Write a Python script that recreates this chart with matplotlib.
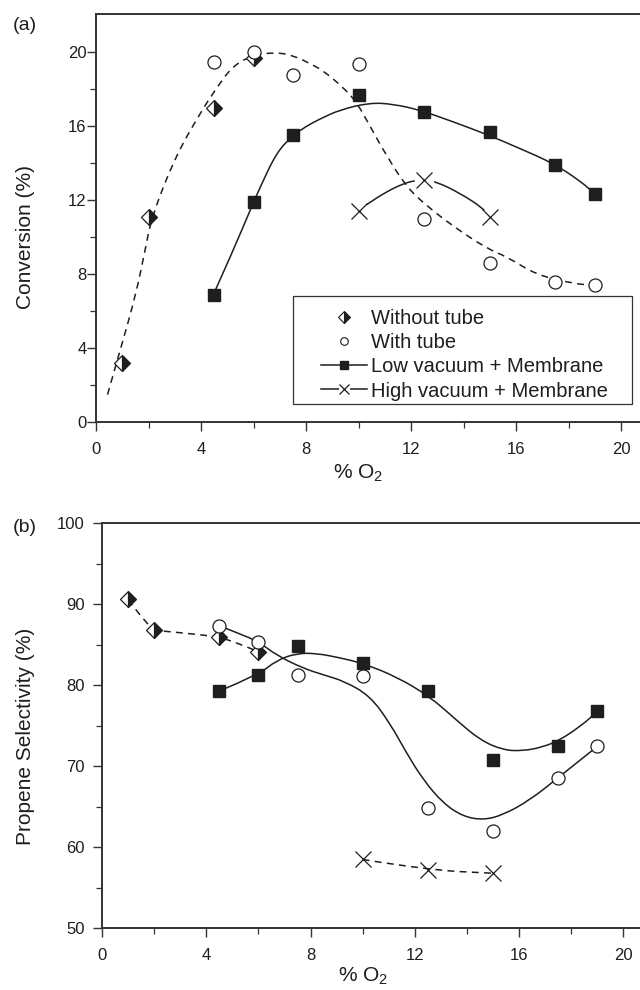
import matplotlib
matplotlib.use("Agg")
import matplotlib.pyplot as plt
from matplotlib.lines import Line2D
from matplotlib.patches import Rectangle, PathPatch
from matplotlib.path import Path
from matplotlib.ticker import FixedLocator

plt.rcParams["font.family"] = ["Liberation Sans", "DejaVu Sans"]
plt.rcParams["mathtext.default"] = "regular"

INK = "#1e1e1e"
AXC = "#333333"

# % O2 of the measured points
o2_wo = [1, 2, 4.5, 6]
o2_sets = [4.5, 6, 7.5, 10, 12.5, 15, 17.5, 19]
o2_high = [10, 12.5, 15]

# (a) conversion (%)
conv_wo = [3.2, 11.1, 17.0, 19.7]
conv_tube = [19.5, 20.0, 18.8, 19.35, 11.0, 8.6, 7.6, 7.45]
conv_low = [6.9, 11.9, 15.55, 17.7, 16.8, 15.7, 13.9, 12.35]
conv_high = [11.45, 13.1, 11.1]

# (b) propene selectivity (%)
sel_wo = [90.6, 86.8, 86.0, 84.1]
sel_tube = [87.35, 85.4, 81.3, 81.1, 64.8, 62.0, 68.6, 72.45]
sel_low = [79.3, 81.3, 84.9, 82.7, 79.3, 70.8, 72.5, 76.85]
sel_high = [58.5, 57.2, 56.8]

# guide curves as drawn in the original figure
fit_a_dash_x = [0.44, 0.94, 1.5, 1.87, 2.12, 3.0, 3.96, 4.6, 5.23, 6.0, 6.8, 7.5,
                8.28, 8.66, 9.42, 9.93, 10.44, 11.07, 11.84, 12.6, 13.6, 14.88,
                15.65, 16.79, 18.18, 19.0]
fit_a_dash_y = [1.5, 4.0, 6.8, 9.3, 11.1, 14.3, 16.7, 18.1, 19.3, 19.85, 20.0, 19.85,
                19.3, 19.0, 18.1, 17.3, 16.0, 14.4, 12.7, 11.7, 10.6, 9.4,
                8.95, 7.96, 7.5, 7.4]
fit_a_low_x = [4.47, 5.23, 6.0, 6.25, 6.88, 7.5, 8.0, 8.53, 9.3, 10.44, 11.33,
               12.34, 13.6, 15.0, 16.15, 17.42, 18.44, 19.0]
fit_a_low_y = [6.9, 9.3, 11.9, 12.7, 14.6, 15.5, 16.0, 16.4, 16.9, 17.28, 17.2,
               16.88, 16.25, 15.5, 14.8, 14.0, 13.05, 12.35]
fit_a_high_x = [10.0, 10.37, 11.07, 11.7, 12.15, 12.5, 12.98, 13.87, 14.75, 15.0]
fit_a_high_y = [11.45, 11.84, 12.47, 12.9, 13.07, 13.1, 13.0, 12.38, 11.57, 11.1]

fit_b_wo_x = [1.0, 1.5, 1.97, 3.0, 4.46, 5.2, 6.0]
fit_b_wo_y = [90.55, 88.5, 86.8, 86.5, 86.0, 85.2, 84.15]
fit_b_tube_x = [4.5, 5.25, 6.0, 6.7, 7.72, 8.49, 9.3, 10.28, 11.05, 11.69,
                12.33, 13.1, 13.86, 14.63, 15.39, 16.42, 17.5, 19.0]
fit_b_tube_y = [87.35, 86.4, 85.4, 83.7, 82.1, 81.3, 80.5, 78.7, 75.3, 71.6,
                68.3, 65.4, 63.8, 63.37, 64.0, 65.84, 68.6, 72.45]
fit_b_low_x = [4.5, 6.0, 6.7, 7.47, 8.23, 9.13, 10.02, 11.3, 12.58, 13.6, 14.5,
               15.39, 16.16, 16.93, 17.57, 18.33, 18.85, 19.0]
fit_b_low_y = [79.3, 81.3, 83.1, 83.95, 83.95, 83.4, 82.7, 81.06, 78.6, 75.7, 73.25,
               72.0, 71.9, 72.4, 73.25, 74.9, 76.3, 76.85]
fit_b_high_x = [10.0, 12.5, 15.0]
fit_b_high_y = [58.5, 57.2, 56.8]

labels = ["Without tube", "With tube", "Low vacuum + Membrane", "High vacuum + Membrane"]

fig = plt.figure(figsize=(6.4, 9.9), dpi=100)
ax_a = fig.add_axes([0.15, 0.5734, 0.85, 0.4124])
ax_b = fig.add_axes([0.1594, 0.0623, 0.8406, 0.4091])


def curve(ax, xs, ys, **kw):
    # smooth guide line: read points used as quadratic bezier controls
    verts = [(xs[0], ys[0])]
    codes = [Path.MOVETO]
    for i in range(1, len(xs) - 1):
        verts.append((xs[i], ys[i]))
        verts.append(((xs[i] + xs[i + 1]) / 2, (ys[i] + ys[i + 1]) / 2))
        codes += [Path.CURVE3, Path.CURVE3]
    verts.append((xs[-1], ys[-1]))
    codes.append(Path.LINETO)
    ax.add_patch(PathPatch(Path(verts, codes), fill=False, ec=INK, lw=1.1,
                           capstyle="butt", zorder=3, **kw))


def style_axes(ax, xmax, ylim, yticks, yminor, ylabel, ylab_xy, xlab_y, ypad):
    ax.set_xlim(0, xmax)
    ax.set_ylim(*ylim)
    ax.spines["right"].set_visible(False)
    for s in ["left", "bottom", "top"]:
        ax.spines[s].set_linewidth(1.4)
        ax.spines[s].set_color(AXC)
    ax.set_xticks([0, 4, 8, 12, 16, 20])
    ax.xaxis.set_minor_locator(FixedLocator([2, 6, 10, 14, 18]))
    ax.set_yticks(yticks)
    ax.yaxis.set_minor_locator(FixedLocator(yminor))
    ax.tick_params(which="both", direction="out", top=False, right=False,
                   color=AXC, labelcolor=INK, labelsize=12)
    ax.tick_params(which="major", length=6.3, width=1.0)
    ax.tick_params(which="minor", length=4, width=0.9)
    ax.tick_params(axis="x", pad=8)
    ax.tick_params(axis="y", pad=ypad)
    ax.set_xlabel("% O$_2$", fontsize=15, color=INK)
    ax.xaxis.set_label_coords(10 / xmax, xlab_y)
    ax.set_ylabel(ylabel, fontsize=15, color=INK)
    ax.yaxis.set_label_coords(*ylab_xy)


def draw_markers(ax, xs_wo, y_wo, xs, y_tube, y_low, xs_high, y_high, gap):
    ax.plot(xs_wo, y_wo, ls="none", marker="D", ms=8.4, fillstyle="right",
            mfc=INK, mfcalt="white", mec=INK, mew=0.9, zorder=5)
    ax.plot(xs, y_tube, ls="none", marker="o", ms=9.4, mfc="white", mec=INK,
            mew=0.9, zorder=5)
    ax.plot(xs, y_low, ls="none", marker="s", ms=8, mfc=INK, mec=INK, zorder=5)
    if gap:
        ax.plot(xs_high, y_high, ls="none", marker="o", ms=14, mfc="white",
                mec="none", zorder=4)
    ax.plot(xs_high, y_high, ls="none", marker="x", ms=11, mec=INK, mew=0.9,
            zorder=5)


dash = dict(ls=(0, (4.5, 3.5)))

# ---- (a) conversion
curve(ax_a, fit_a_dash_x, fit_a_dash_y, **dash)
curve(ax_a, fit_a_low_x, fit_a_low_y)
curve(ax_a, fit_a_high_x, fit_a_high_y)
draw_markers(ax_a, o2_wo, conv_wo, o2_sets, conv_tube, conv_low, o2_high, conv_high, True)
style_axes(ax_a, 20.72, (0, 22.07), [0, 4, 8, 12, 16, 20], [2, 6, 10, 14, 18],
           "Conversion (%)", (-0.112, 0.453), -0.099, 0.5)

# legend: frame drawn by hand, entries placed inside
ax_a.add_patch(Rectangle((0.3627, 0.044), 0.6233, 0.266, transform=ax_a.transAxes,
                         fc="white", ec=AXC, lw=0.9, zorder=6))
h_wo = Line2D([], [], ls="none", marker="D", ms=6, fillstyle="right", mfc=INK,
              mfcalt="white", mec=INK, mew=0.8)
h_tube = Line2D([], [], ls="none", marker="o", ms=5.5, mfc="white", mec=INK, mew=0.8)
h_low = Line2D([], [], color=INK, lw=1.1, marker="s", ms=6, mfc=INK, mec=INK)
h_high = (Line2D([], [], color=INK, lw=1.1),
          Line2D([], [], ls="none", marker="o", ms=8, mfc="white", mec="none"),
          Line2D([], [], ls="none", marker="x", ms=7, mec=INK, mew=0.9))
leg = ax_a.legend([h_wo, h_tube, h_low, h_high], labels, loc="center left",
                  bbox_to_anchor=(0.413, 0.165), frameon=False, fontsize=14.5,
                  handlelength=2.3, handletextpad=0.18, labelspacing=0.25,
                  borderpad=0, borderaxespad=0, numpoints=1)
leg.set_zorder(7)
for t in leg.get_texts():
    t.set_color(INK)

# ---- (b) selectivity
curve(ax_b, fit_b_wo_x, fit_b_wo_y, **dash)
curve(ax_b, fit_b_tube_x, fit_b_tube_y)
curve(ax_b, fit_b_low_x, fit_b_low_y)
curve(ax_b, fit_b_high_x, fit_b_high_y, **dash)
draw_markers(ax_b, o2_wo, sel_wo, o2_sets, sel_tube, sel_low, o2_high, sel_high, False)
style_axes(ax_b, 20.64, (50, 100), [50, 60, 70, 80, 90, 100], [55, 65, 75, 85, 95],
           "Propene Selectivity (%)", (-0.1245, 0.473), -0.093, 6)

fig.text(13 / 640, 1 - 26 / 990, "(a)", fontsize=14, color=INK, va="center")
fig.text(13 / 640, 1 - 528 / 990, "(b)", fontsize=14, color=INK, va="center")

fig.savefig("out.png", dpi=100)
